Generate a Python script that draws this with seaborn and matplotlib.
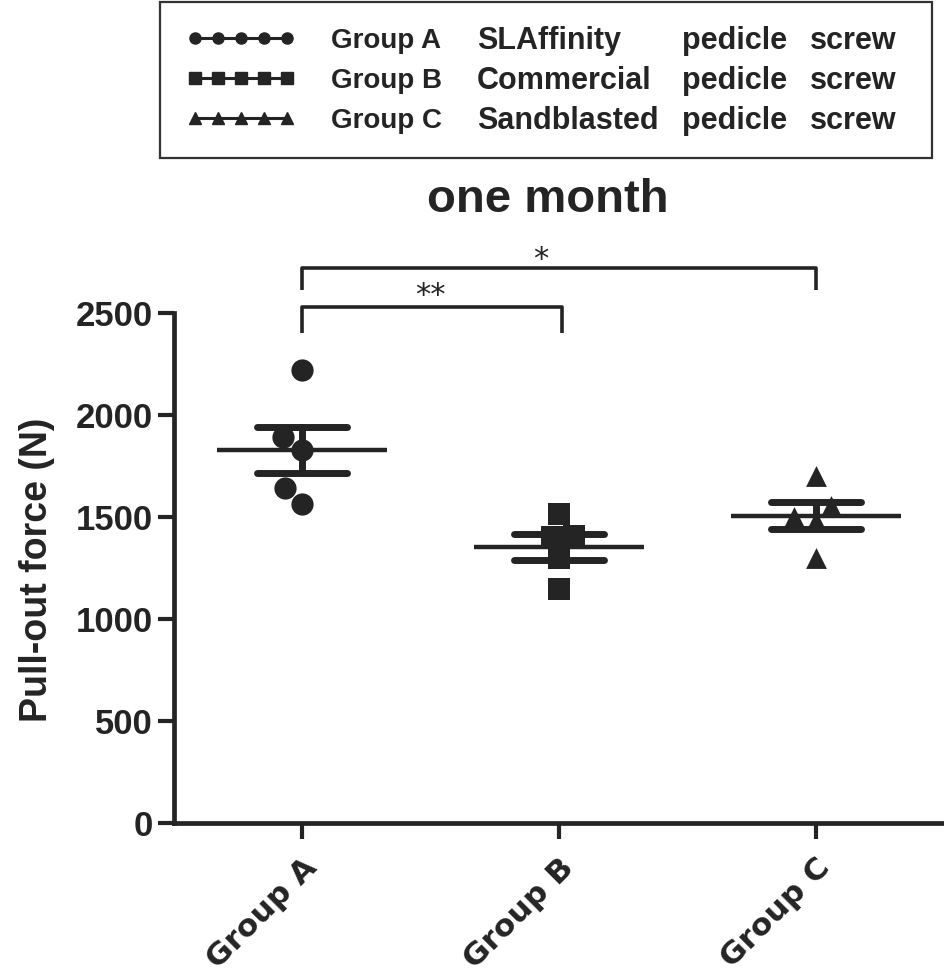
import pandas as pd
import numpy as np
import matplotlib
matplotlib.use("Agg")
import matplotlib.pyplot as plt
import matplotlib.transforms as mtransforms
from matplotlib.lines import Line2D
from matplotlib.patches import Rectangle
import seaborn as sns

# Pull-out force per screw (N)
groups = ["Group A", "Group B", "Group C"]
group_a = [2220, 1890, 1830, 1640, 1565]
group_b = [1515, 1405, 1400, 1300, 1145]
group_c = [1700, 1555, 1500, 1480, 1300]
markers = ["o", "s", "^"]
descriptions = [["SLAffinity", "pedicle", "screw"],
                 ["Commercial", "pedicle", "screw"],
                 ["Sandblasted", "pedicle", "screw"]]
y_ticks = [0, 500, 1000, 1500, 2000, 2500]

df = pd.DataFrame({
    "group": np.repeat(groups, 5),
    "force": group_a + group_b + group_c,
})

ink = "#242424"
sns.set_style("ticks")
plt.rcParams["font.family"] = ["Liberation Sans", "DejaVu Sans"]
plt.rcParams["text.color"] = ink

fig = plt.figure(figsize=(9.44, 9.8), dpi=100)
ax = fig.add_axes([0.1843, 0.1602, 0.8157, 0.5204])

# individual points, one marker shape per group
sizes = {"o": 16, "s": 15.5, "^": 15}
for g, m in zip(groups, markers):
    sns.swarmplot(data=df[df["group"] == g], x="group", y="force", order=groups,
                  marker=m, size=sizes[m], color=ink, linewidth=0, ax=ax, zorder=2)

# mean line + SEM bars
sns.pointplot(data=df, x="group", y="force", order=groups, errorbar="se",
              capsize=0.35, color=ink, linestyle="none", marker="_",
              markersize=122, markeredgewidth=3.2,
              err_kws={"linewidth": 5, "solid_capstyle": "round"}, ax=ax, zorder=3)

ax.set_xlim(-0.5, 2.5)
ax.set_ylim(0, 2500)
ax.set_yticks(y_ticks)
ax.set_yticklabels([str(v) for v in y_ticks], fontsize=25, fontweight="bold", color=ink)
ax.set_xticks(range(len(groups)))
ax.set_xticklabels(groups, rotation=45, ha="right", va="top", rotation_mode="anchor",
                   fontsize=22.5, fontweight="bold", family="DejaVu Sans", color=ink)
shift = mtransforms.ScaledTranslation(-5 / 72, 0, fig.dpi_scale_trans)
for lbl in ax.get_xticklabels():
    lbl.set_transform(lbl.get_transform() + shift)
ax.set_xlabel("")
ax.set_ylabel("")
sns.despine(ax=ax)
for s in ["left", "bottom"]:
    ax.spines[s].set_linewidth(3.4)
    ax.spines[s].set_color(ink)
    ax.spines[s].set_capstyle("projecting")
ax.tick_params(axis="both", length=11.5, width=3, color=ink)
ax.tick_params(axis="y", pad=4)
ax.tick_params(axis="x", pad=10)

# significance brackets
def bracket(x0, x1, y, drop, label, lx, ly):
    ax.plot([x0, x0, x1, x1], [y - drop, y, y, y - drop], color=ink, lw=2.6,
            solid_joinstyle="round", solid_capstyle="butt", clip_on=False)
    ax.text(lx, ly, label, ha="center", va="baseline", fontsize=22,
            family="DejaVu Sans", color=ink, clip_on=False)

bracket(0, 1.01, 2529, 127, "**", 0.5, 2544)
bracket(0, 2.0, 2721, 108, "*", 0.93, 2721)

fig.text(0.5805, 1 - 212 / 980, "one month", ha="center", va="baseline",
         fontsize=34, fontweight="bold")
fig.text(37 / 944, 1 - 570 / 980, "Pull-out force (N)", rotation=90,
         ha="center", va="center", fontsize=27, fontweight="bold")

# legend box at the top
handles = [Line2D([], [], color=ink, lw=2.2, marker=m, markersize=8) for m in markers]
leg = fig.legend(handles, groups, loc="upper left",
                 bbox_to_anchor=(187 / 944, 1 - 28 / 980), frameon=False,
                 numpoints=5, handlelength=3.9, handletextpad=1.3,
                 labelspacing=0.5, borderpad=0, borderaxespad=0,
                 prop={"size": 20, "weight": "bold"})
for t in leg.get_texts():
    t.set_color(ink)
fig.patches.append(Rectangle((160 / 944, 1 - 158 / 980), (932 - 160) / 944, 156 / 980,
                             transform=fig.transFigure, fill=False, edgecolor="#333333",
                             linewidth=1.6))

fig.canvas.draw()
renderer = fig.canvas.get_renderer()
col_x = [477 / 944, 682 / 944, 810 / 944]
for t, words in zip(leg.get_texts(), descriptions):
    bb = t.get_window_extent(renderer).transformed(fig.transFigure.inverted())
    yc = (bb.y0 + bb.y1) / 2
    for cx, w in zip(col_x, words):
        fig.text(cx, yc, w, ha="left", va="center", fontsize=22, fontweight="bold")

fig.savefig("out.png", dpi=100)
